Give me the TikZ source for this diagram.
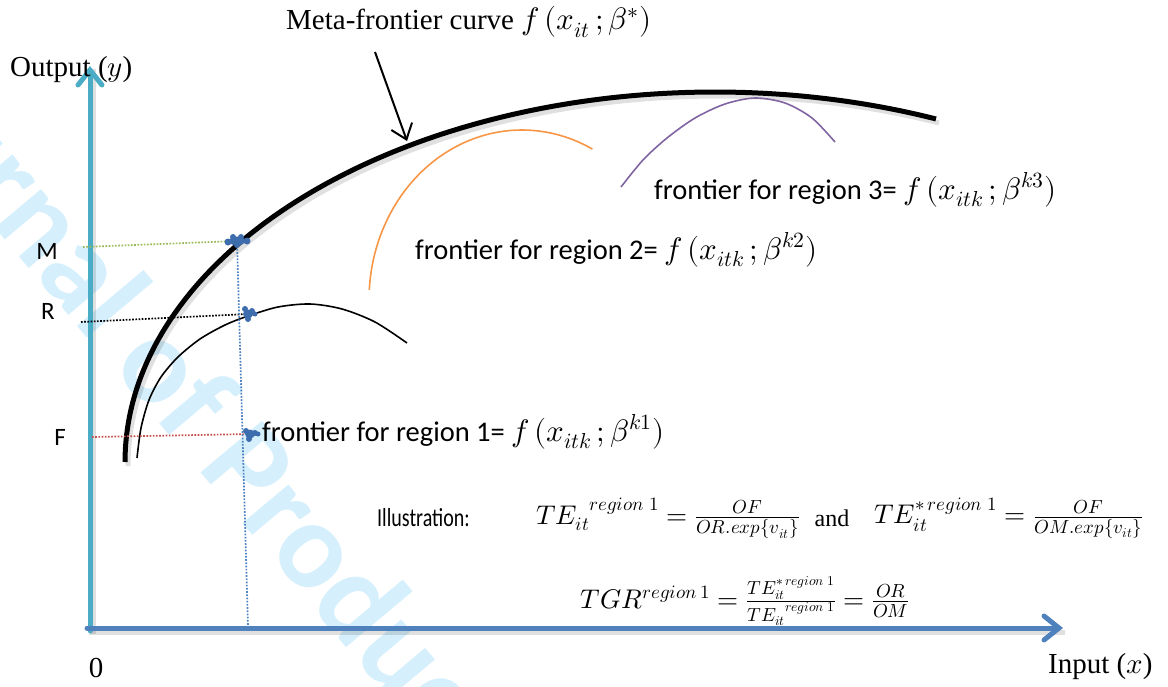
\documentclass[tikz,border=0pt]{standalone}
\usepackage{unicode-math}
\setmainfont{Liberation Serif}
\setmathfont{Latin Modern Math}
\newfontfamily\calfont{Carlito}
\usetikzlibrary{arrows.meta,shapes.geometric}
\definecolor{axy}{HTML}{4BACC6}
\definecolor{axx}{HTML}{4F81BD}
\definecolor{orng}{HTML}{F79646}
\definecolor{purp}{HTML}{8064A2}
\definecolor{grn}{HTML}{9BBB59}
\definecolor{rd}{HTML}{C0504D}
\definecolor{wmc}{HTML}{D5F0FC}
\definecolor{blobc}{HTML}{3E6DAE}
\newcommand\mbig[1]{{\fontsize{31}{33}\selectfont$#1$}}
\tikzset{
  axisline/.style={line width=5pt, line cap=round, -{Straight Barb[length=15pt,width=24pt,line cap=round]}},
  shadowline/.style={line width=5pt, draw=black, opacity=0.12},
  metacurve/.style={line width=5pt, black},
  thincurve/.style={line width=1.6pt},
  guide/.style={line width=1.7pt, dash pattern=on 1.7pt off 1.5pt},
  blob/.style={ellipse, fill=blobc, inner sep=0pt, minimum width=10pt, minimum height=9pt},
  serifl/.style={font=\fontsize{29}{32}\selectfont, inner sep=0pt},
  sansl/.style={font=\calfont\fontsize{28.5}{32}\selectfont, inner sep=0pt},
  tick/.style={font=\calfont\fontsize{25}{28}\selectfont, inner sep=0pt},
  mathl/.style={font=\fontsize{27}{31}\selectfont, inner sep=0pt},
  wmark/.style={font=\calfont\bfseries\fontsize{124}{130}\selectfont, text=wmc, inner sep=0pt},
}
\begin{document}
\begin{tikzpicture}[x=1pt,y=-1pt]
\useasboundingbox (0,0) rectangle (1168,686);
% watermark
\begin{scope}
\clip (0,0) rectangle (1168,686);
\node[wmark, rotate=-50, anchor=base west] (wmk) at (-150,55) {Journal of Production};
\end{scope}

% axes
\coordinate (O) at (90,628);
\coordinate (ybase) at (90,631);
\coordinate (ytip) at (90,66);
\coordinate (xbase) at (87,628);
\coordinate (xtip) at (1063,628);
\draw[shadowline] ([shift={(3,3)}]ybase) -- ([shift={(3,3)}]ytip);
\draw[shadowline] ([shift={(2,4)}]xbase) -- ([shift={(2,4)}]xtip);
\draw[axisline, axy] (ybase) -- (ytip);
\draw[axisline, axx] (xbase) -- (xtip);

% meta-frontier curve
\draw[line width=5pt, black, opacity=0.12, shift={(3,4)}] plot[smooth, domain=180:292, samples=60] ({715+590*cos(\x)},{462+370*sin(\x)});
\draw[metacurve] plot[smooth, domain=180:292, samples=60] ({715+590*cos(\x)},{462+370*sin(\x)});

% regional frontiers
\draw[thincurve, black] plot[smooth] coordinates {(137,458) (141,428) (149,400) (161,377) (178,357) (200,339) (225,325) (248,316) (278,307) (310,304) (342,309) (375,322) (407,343)};
\draw[thincurve, orng] plot[smooth, domain=183.4:297.4, samples=50] ({522+153*cos(\x)},{300+170*sin(\x)});
\draw[thincurve, purp] plot[smooth] coordinates {(621,187) (643,160) (667,138) (695,118) (725,104) (755,98) (785,103) (812,118) (835,142)};

% guides
\coordinate (gM0) at (83,247);
\coordinate (gR0) at (81,322);
\coordinate (gF0) at (92,437);
\coordinate (vbot) at (248,627);
\node[blob, minimum width=16pt] (pM) at (237,241) {};
\node[blob] (pR) at (248,314) {};
\node[blob] (pF) at (250,434) {};
\draw[guide, grn] (gM0) -- (pM);
\draw[guide, black] (gR0) -- (pR);
\draw[guide, rd] (gF0) -- (pF);
\draw[guide, axx] (pM) -- (vbot);
\fill[blobc] (pM) ++(-9,1) circle (3.5) (pM) ++(-4,-4) circle (3) (pM) ++(4,-4) circle (3) (pM) ++(10,0) circle (3.5) (pM) ++(0,4) circle (3);
\fill[blobc] (pR) ++(-3,-5) circle (3) (pR) ++(4,-3) circle (3) (pR) ++(0,5) circle (3) (pR) ++(7,0) circle (2.5);
\fill[blobc] (pF) ++(-4,-3) circle (3) (pF) ++(5,-1) circle (3) (pF) ++(-1,5) circle (3) (pF) ++(8,0) circle (2.5);

% labels
\node[serifl, anchor=west] (yl) at (10,70) {Output ($y$)};
\node[serifl, anchor=west] (xl) at (1048,667) {Input ($x$)};
\node[serifl] (zero) at (96,668) {0};
\node[tick] (lM) at (47,251) {M};
\node[tick] (lR) at (48,311) {R};
\node[tick] (lF) at (60,437) {F};

\node[serifl, anchor=west] (meta) at (286,22) {Meta-frontier curve \mbig{f\,(x_{it}\,;\beta^{*})}};
\coordinate (arS) at (375,52);
\coordinate (arE) at (407,141);
\draw[line width=2pt, -{Straight Barb[length=14pt,width=22pt]}] (arS) -- (arE);

\node[sansl, anchor=west] (r3) at (654,190) {frontier for region 3= \mbig{f\,(x_{itk}\,;\beta^{k3})}};
\node[sansl, anchor=west] (r2) at (415,250) {frontier for region 2= \mbig{f\,(x_{itk}\,;\beta^{k2})}};
\node[sansl, anchor=west] (r1) at (262,432) {frontier for region 1= \mbig{f\,(x_{itk}\,;\beta^{k1})}};

\node[anchor=west, inner sep=0pt, font=\calfont\fontsize{26}{30}\selectfont] (ill) at (377,518) {\scalebox{0.77}[1]{Illustration:}};
\node[mathl, anchor=west] (te1) at (536,518) {${TE_{it}}^{region\;1}=\frac{OF}{OR.exp\{v_{it}\}}$};
\node[mathl, font=\fontsize{24}{28}\selectfont] (and) at (832,518) {and};
\node[mathl, anchor=west] (te2) at (874,518) {$TE_{it}^{*\,region\;1}=\frac{OF}{OM.exp\{v_{it}\}}$};
\node[mathl] (tgr) at (745,601) {$TGR^{region\,1}=\frac{TE_{it}^{*\,region\;1}}{{TE_{it}}^{region\;1}}=\frac{OR}{OM}$};
\end{tikzpicture}
\end{document}
